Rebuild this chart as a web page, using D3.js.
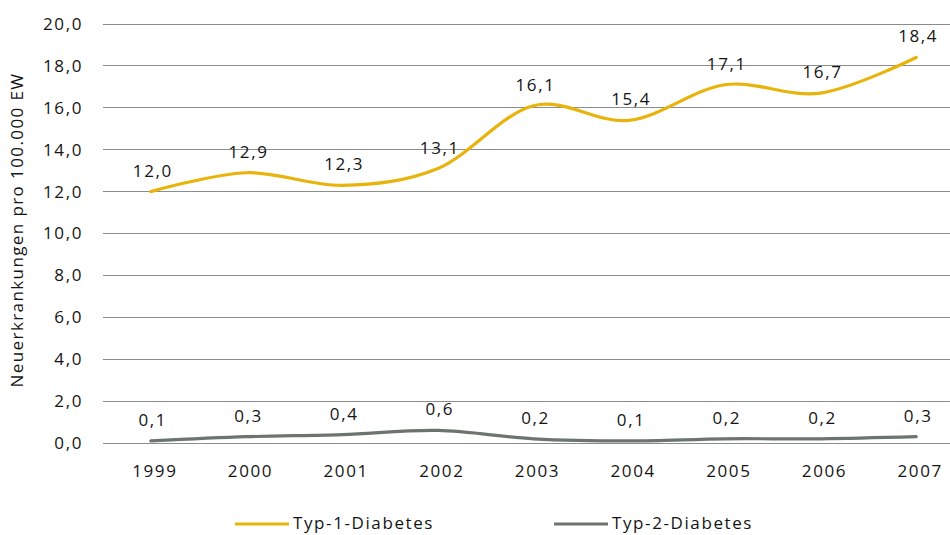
<!DOCTYPE html>
<html><head><meta charset="utf-8">
<script src="https://cdn.jsdelivr.net/npm/d3@7"></script>
<style>
body{margin:0;background:#fff;}
text{font-family:"Open Sans",sans-serif;fill:#141414;}
</style></head>
<body><svg id="c" width="950" height="535"></svg>
<script>
const years = ["1999","2000","2001","2002","2003","2004","2005","2006","2007"];
const typ1 = [12.0,12.9,12.3,13.1,16.1,15.4,17.1,16.7,18.4];
const typ2 = [0.1,0.3,0.4,0.6,0.2,0.1,0.2,0.2,0.3];
const seriesNames = ["Typ-1-Diabetes","Typ-2-Diabetes"];
const yTicks = [0,2,4,6,8,10,12,14,16,18,20];
const yTitle = "Neuerkrankungen pro 100.000 EW";

(function(){
const colors = ["#E8B40C","#6B756D"];
const fmt = v => d3.format(".1f")(v).replace(".", ",");
const svg = d3.select("#c");
const mL = 103, mR = 964, mT = 24, mB = 443;
const x = d3.scalePoint().domain(years).range([mL, mR]).padding(0.5);
const y = d3.scaleLinear().domain([0,20]).range([mB, mT]);

const fs = "17px", ls = "1.6px";
svg.append("g").selectAll("line").data(yTicks).join("line")
  .attr("x1", mL).attr("x2", mR)
  .attr("y1", d=>y(d)).attr("y2", d=>y(d))
  .attr("stroke", "#8c8c8c").attr("stroke-width", 1).attr("shape-rendering","crispEdges");
svg.append("g").selectAll("text").data(yTicks).join("text")
  .attr("x", 83).attr("y", d=>y(d)).attr("dy","0.35em")
  .attr("text-anchor","end").style("font-size",fs).style("letter-spacing",ls)
  .text(d=>fmt(d));
svg.append("g").selectAll("text").data(years).join("text")
  .attr("x", d=>x(d)+4).attr("y", 477)
  .attr("text-anchor","middle").style("font-size",fs).style("letter-spacing",ls)
  .text(d=>d);
svg.append("text").attr("transform","translate(23,230) rotate(-90)")
  .attr("text-anchor","middle").style("font-size",fs).style("letter-spacing","1.4px")
  .text(yTitle);

const line = d3.line().x((d,i)=>x(years[i])).y(d=>y(d)).curve(d3.curveCardinal.tension(0));
[typ1, typ2].forEach((s, k) => {
  svg.append("path").datum(s).attr("d", line)
    .attr("fill","none").attr("stroke", colors[k]).attr("stroke-width", 3.2)
    .attr("stroke-linecap","round");
  svg.append("g").selectAll("text").data(s).join("text")
    .attr("x", (d,i)=>x(years[i])+2).attr("y", d=>y(d)-21).attr("dy","0.35em")
    .attr("text-anchor","middle").style("font-size",fs).style("letter-spacing",ls)
    .text(d=>fmt(d));
});

const lg = [235, 554];
seriesNames.forEach((n,k)=>{
  svg.append("line").attr("x1", lg[k]).attr("x2", lg[k]+54).attr("y1",524).attr("y2",524)
    .attr("stroke", colors[k]).attr("stroke-width",3);
  svg.append("text").attr("x", lg[k]+58).attr("y",523).attr("dy","0.35em")
    .style("font-size",fs).style("letter-spacing","1.6px").text(n);
});
})();
</script></body></html>
